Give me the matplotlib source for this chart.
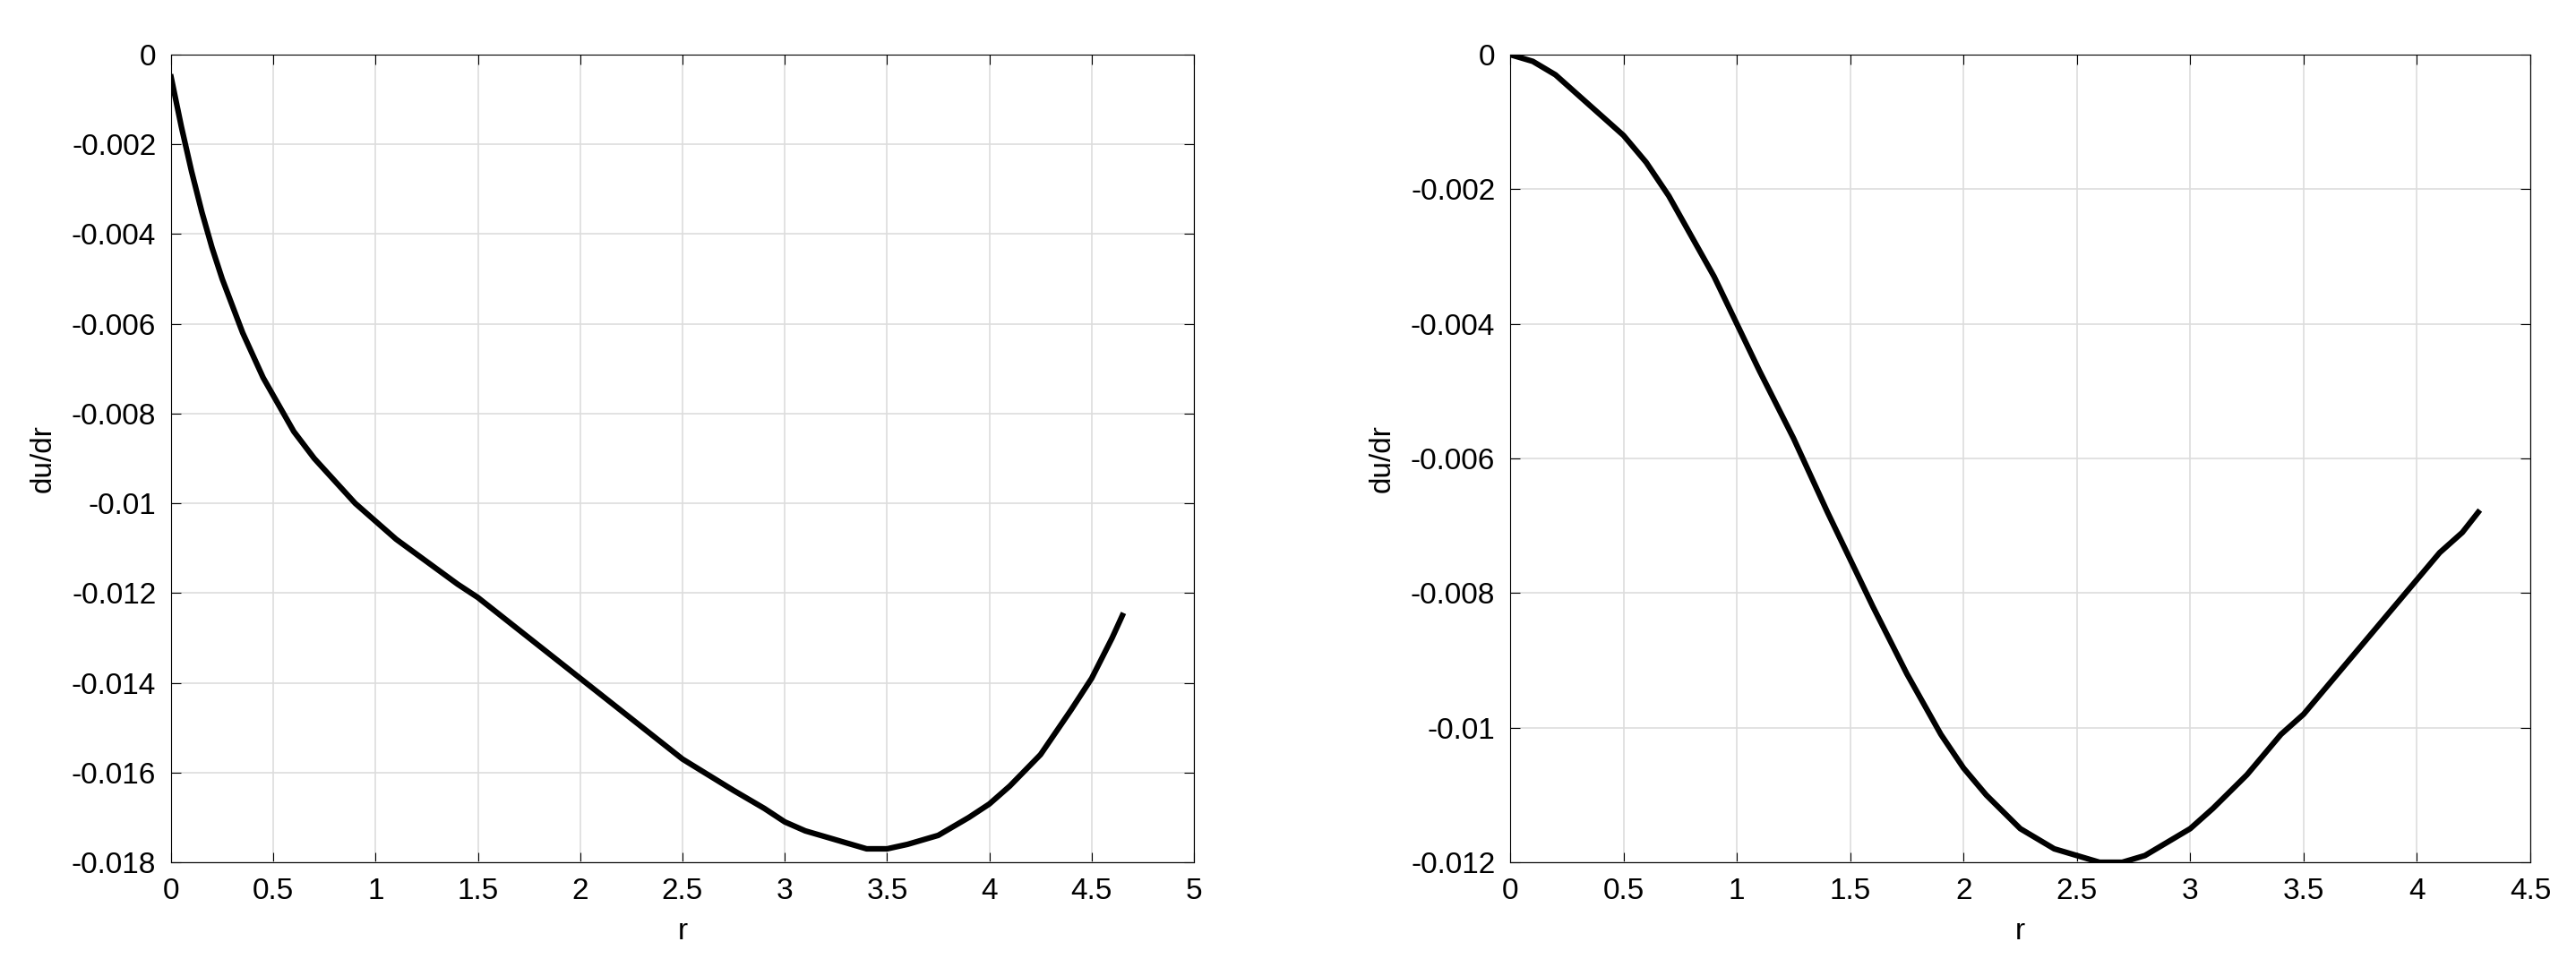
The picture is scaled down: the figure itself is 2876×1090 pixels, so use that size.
import matplotlib
matplotlib.use("Agg")
import matplotlib.pyplot as plt

# left panel
R_LEFT = [0.0, 0.05, 0.1, 0.15, 0.2, 0.25, 0.3, 0.35, 0.4, 0.45, 0.5, 0.55, 0.6, 0.65, 0.7,
          0.8, 0.9, 1.0, 1.1, 1.25, 1.4, 1.5, 1.75, 2.0, 2.25, 2.5, 2.75, 2.9, 3.0, 3.1,
          3.25, 3.4, 3.5, 3.6, 3.75, 3.9, 4.0, 4.1, 4.25, 4.4, 4.5, 4.6, 4.65]
DU_LEFT = [-0.0005, -0.0016, -0.0026, -0.0035, -0.0043, -0.0050, -0.0056, -0.0062, -0.0067,
           -0.0072, -0.0076, -0.0080, -0.0084, -0.0087, -0.0090, -0.0095, -0.0100, -0.0104,
           -0.0108, -0.0113, -0.0118, -0.0121, -0.0130, -0.0139, -0.0148, -0.0157, -0.0164,
           -0.0168, -0.0171, -0.0173, -0.0175, -0.0177, -0.0177, -0.0176, -0.0174, -0.0170,
           -0.0167, -0.0163, -0.0156, -0.0146, -0.0139, -0.0130, -0.0125]

# right panel
R_RIGHT = [0.0, 0.1, 0.2, 0.3, 0.4, 0.5, 0.6, 0.7, 0.8, 0.9, 1.0, 1.1, 1.25, 1.4, 1.5,
           1.6, 1.75, 1.9, 2.0, 2.1, 2.25, 2.4, 2.5, 2.6, 2.65, 2.7, 2.8, 2.9, 3.0, 3.1,
           3.25, 3.4, 3.5, 3.6, 3.75, 3.9, 4.0, 4.1, 4.2, 4.27]
DU_RIGHT = [0.0, -0.0001, -0.0003, -0.0006, -0.0009, -0.0012, -0.0016, -0.0021, -0.0027,
            -0.0033, -0.0040, -0.0047, -0.0057, -0.0068, -0.0075, -0.0082, -0.0092,
            -0.0101, -0.0106, -0.0110, -0.0115, -0.0118, -0.0119, -0.0120, -0.0120,
            -0.0120, -0.0119, -0.0117, -0.0115, -0.0112, -0.0107, -0.0101, -0.0098,
            -0.0094, -0.0088, -0.0082, -0.0078, -0.0074, -0.0071, -0.0068]

plt.rcParams["font.family"] = ["Liberation Sans", "DejaVu Sans"]
plt.rcParams["font.size"] = 24

fig = plt.figure(figsize=(28.76, 10.9), dpi=100)
ax1 = fig.add_axes([191 / 2876, 1 - 963 / 1090, 1142 / 2876, 902 / 1090])
ax2 = fig.add_axes([1686 / 2876, 1 - 963 / 1090, 1139 / 2876, 902 / 1090])

panels = [
    (ax1, R_LEFT, DU_LEFT, (0, 5), (-0.018, 0), 0.002),
    (ax2, R_RIGHT, DU_RIGHT, (0, 4.5), (-0.012, 0), 0.002),
]

for ax, x, y, xlim, ylim, ystep in panels:
    ax.plot(x, y, color="black", linewidth=4.5, solid_joinstyle="round")
    ax.set_xlim(*xlim)
    ax.set_ylim(*ylim)
    ax.set_xticks([i * 0.5 for i in range(int(xlim[1] / 0.5) + 1)])
    n = int(round(-ylim[0] / ystep))
    ax.set_yticks([-k * ystep for k in range(n + 1)])
    ax.set_yticklabels(["0"] + [f"{-k * ystep:g}" for k in range(1, n + 1)])
    ax.set_xticklabels([f"{t:g}" for t in ax.get_xticks()])
    ax.grid(True, color="#dddddd", linewidth=1.2)
    ax.tick_params(direction="in", top=True, right=True, length=8, pad=12)
    ax.set_xlabel("r", labelpad=10)
    ax.set_ylabel("du/dr", labelpad=12)

fig.savefig("out.png", dpi=100)
